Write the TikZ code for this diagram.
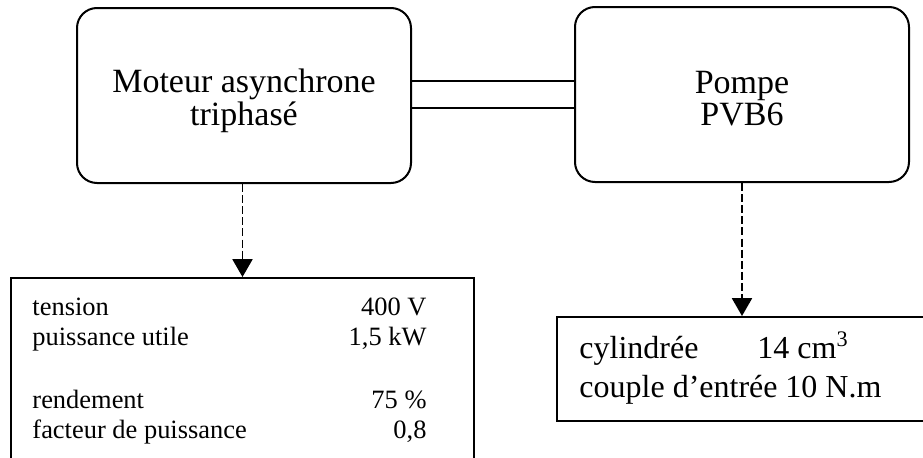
\documentclass[tikz,border=0pt]{standalone}
\usepackage{fontspec}
\setmainfont{Liberation Serif}
\usetikzlibrary{arrows.meta}

\tikzset{
  unit/.style={draw, line width=0.9pt, rounded corners=9pt, inner sep=0pt,
    minimum width=334*0.45pt, minimum height=175*0.45pt},
  databox/.style={draw, line width=0.9pt, inner sep=0pt},
  bigtext/.style={anchor=base, inner sep=0pt, font=\fontsize{15.3}{17}\selectfont},
  smalltext/.style={inner sep=0pt, font=\fontsize{11.9}{13.5}\selectfont},
  pumptext/.style={inner sep=0pt, anchor=base west, font=\fontsize{14.4}{17}\selectfont},
  link/.style={line width=0.75pt, dash pattern=on 3.6pt off 1.4pt,
    -{Triangle[width=9pt,length=8pt]}},
  shaft/.style={line width=0.9pt},
}

\begin{document}
\begin{tikzpicture}[x=0.45pt, y=-0.45pt]
        \useasboundingbox (0,0) rectangle (923,458);
        \clip (0,0) rectangle (923,458);
        % Motor and pump
        \node[unit] (motor) at (244,95.5) {};
        \node[bigtext] (motorname) at (244,92) {Moteur asynchrone};
        \node[bigtext] (motortype) at (244,125) {triphasé};
        \node[unit] (pump) at (742,94.5) {};
        \node[bigtext] (pumpname) at (742,93) {Pompe};
        \node[bigtext] (pumptype) at (742,125) {PVB6};
        % Shaft
        \coordinate (shafttop) at (0,81);
        \coordinate (shaftbot) at (0,108);
        \draw[shaft] (shafttop -| motor.east) -- (shafttop -| pump.west);
        \draw[shaft] (shaftbot -| motor.east) -- (shaftbot -| pump.west);
        % Data boxes
        \node[databox, minimum width=463*0.45pt, minimum height=197*0.45pt] (motordata) at (242.5,376.5) {};
        \node[databox, minimum width=378*0.45pt, minimum height=104*0.45pt] (pumpdata) at (746,369) {};
        \draw[link] (motordata.north |- motor.south) -- (motordata.north);
        \draw[link] (pump.south) -- (pump.south |- pumpdata.north);
        % Motor data
        \node[smalltext, anchor=base west] (tension) at (32,315) {tension};
        \node[smalltext, anchor=base east] (tensionval) at (427,315) {400 V};
        \node[smalltext, anchor=base west] (puissance) at (32,345) {puissance utile};
        \node[smalltext, anchor=base east] (puissanceval) at (427,345) {1,5 kW};
        \node[smalltext, anchor=base west] (rendement) at (32,408) {rendement};
        \node[smalltext, anchor=base east] (rendementval) at (427,408) {75 \%};
        \node[smalltext, anchor=base west] (facteur) at (32,438) {facteur de puissance};
        \node[smalltext, anchor=base east] (facteurval) at (427,438) {0,8};
        % Pump data
        \node[pumptext] (cylindree) at (579,358) {cylindrée};
        \node[pumptext] (cylindreeval) at (757,358) {14 cm\textsuperscript{3}};
        \node[pumptext] (couple) at (579,397) {couple d’entrée};
        \node[pumptext] (coupleval) at (785,397) {10 N.m};
    \end{tikzpicture}
\end{document}
